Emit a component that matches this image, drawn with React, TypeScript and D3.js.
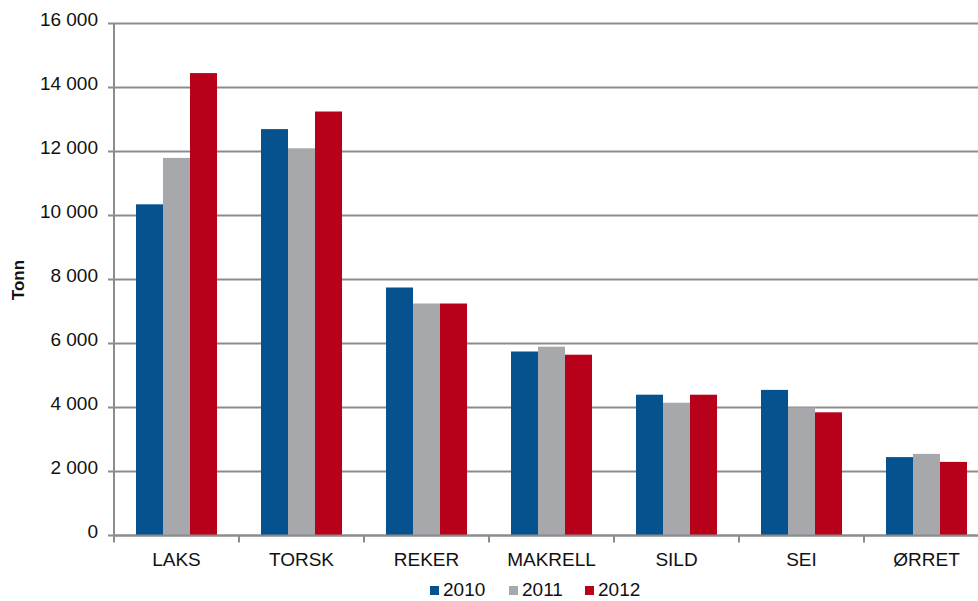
import React from "react";
import * as d3 from "d3";

const categories = ["LAKS", "TORSK", "REKER", "MAKRELL", "SILD", "SEI", "ØRRET"];
const years = ["2010", "2011", "2012"];
const values2010 = [10350, 12700, 7750, 5750, 4400, 4550, 2450];
const values2011 = [11800, 12100, 7250, 5900, 4150, 4000, 2550];
const values2012 = [14450, 13250, 7250, 5650, 4400, 3850, 2300];
const yTicks = [0, 2000, 4000, 6000, 8000, 10000, 12000, 14000, 16000];
const colors = ["#05528E", "#A7A8AC", "#B9001B"];

const W = 978;
const H = 601;
const left = 114;
const plotTop = 23.5;
const baseline = 535.5;
const font = "'Liberation Sans', Arial, sans-serif";

const fmt = (v: number) => (v >= 1000 ? `${Math.floor(v / 1000)} ${String(v % 1000).padStart(3, "0")}` : String(v));

export default function App() {
  const series = [values2010, values2011, values2012];
  const x = d3.scaleBand<string>().domain(categories).range([left, left + 125 * categories.length]);
  const xi = d3.scaleBand<string>().domain(years).range([0, x.bandwidth()]).paddingOuter(0.815);
  const y = d3.scaleLinear().domain([0, 16000]).range([baseline, plotTop]);

  const boundaries = categories.map((c) => (x(c) as number) + x.bandwidth());

  return (
    <div style={{ position: "absolute", left: 0, top: 0 }}>
      <svg width={W} height={H} style={{ display: "block", background: "#fff" }}>
        {/* gridlines with left tick marks */}
        {yTicks.map((t) => (
          <line key={`g${t}`} x1={left - 6} x2={W} y1={y(t)} y2={y(t)} stroke="#8C8C8C" strokeWidth={2} />
        ))}
        {/* y tick labels */}
        {yTicks.map((t) => (
          <text
            key={`l${t}`}
            x={98}
            y={y(t)}
            dy="0.12em"
            textAnchor="end"
            fontFamily={font}
            fontSize={19}
            fill="#111"
          >
            {fmt(t)}
          </text>
        ))}
        {/* bars */}
        {categories.map((c, i) =>
          years.map((yr, j) => {
            const v = series[j][i];
            return (
              <rect
                key={`${c}-${yr}`}
                x={(x(c) as number) + (xi(yr) as number)}
                y={y(v)}
                width={xi.bandwidth()}
                height={baseline - y(v)}
                fill={colors[j]}
              />
            );
          })
        )}
        {/* axes */}
        <line x1={left} x2={left} y1={plotTop} y2={baseline + 7} stroke="#8C8C8C" strokeWidth={2} />
        <line x1={left} x2={W} y1={baseline} y2={baseline} stroke="#8C8C8C" strokeWidth={2} />
        {boundaries.map((b, i) => (
          <line key={`t${i}`} x1={b} x2={b} y1={baseline} y2={baseline + 7} stroke="#8C8C8C" strokeWidth={2} />
        ))}
        {/* category labels */}
        {categories.map((c) => (
          <text
            key={`c${c}`}
            x={(x(c) as number) + x.bandwidth() / 2}
            y={566}
            textAnchor="middle"
            fontFamily={font}
            fontSize={19}
            fill="#111"
          >
            {c}
          </text>
        ))}
        {/* y axis title */}
        <text
          transform={`translate(24,280) rotate(-90)`}
          textAnchor="middle"
          fontFamily={font}
          fontSize={17}
          fontWeight="bold"
          fill="#111"
        >
          Tonn
        </text>
        {/* legend */}
        {years.map((yr, j) => {
          const lx = [430, 509, 585][j];
          return (
            <g key={`lg${yr}`}>
              <rect x={lx} y={586} width={9} height={9} fill={colors[j]} />
              <text x={lx + 13} y={596} fontFamily={font} fontSize={19} fill="#111">
                {yr}
              </text>
            </g>
          );
        })}
      </svg>
    </div>
  );
}
